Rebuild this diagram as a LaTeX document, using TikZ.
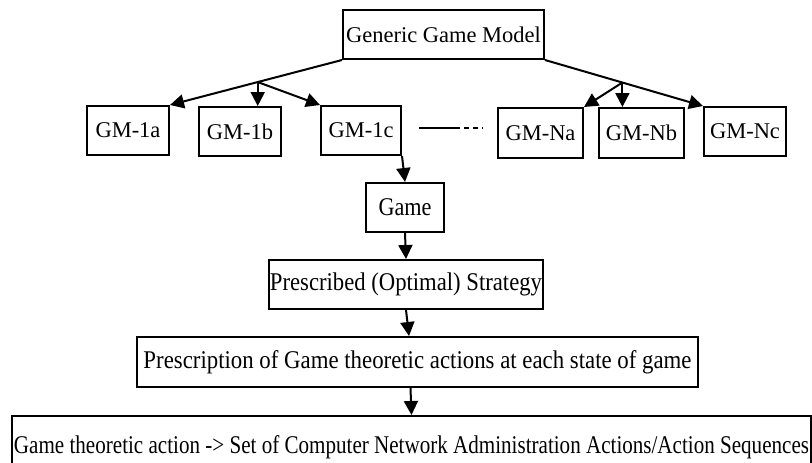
\documentclass[tikz,border=0pt]{standalone}
\usepackage{fontspec}
\usepackage{graphicx}
\setmainfont{Liberation Serif}
\usetikzlibrary{arrows.meta,calc}
\newcommand{\fitw}[2]{\resizebox{#1}{\height}{#2}}
\begin{document}
\begin{tikzpicture}[x=1pt,y=-1pt,
  box/.style={draw, line width=2pt, inner sep=0pt, font=\fontsize{22.5}{26}\selectfont},
  bigbox/.style={box, font=\fontsize{25.5}{30}\selectfont},
  arr/.style={line width=2pt, -{Triangle[length=14pt,width=14pt]}},
  ln/.style={line width=2pt}]
\useasboundingbox (0,0) rectangle (812,463);
\node[box, minimum width=201pt, minimum height=49pt] (gen) at (443.5,34.5) {Generic Game Model};
\node[box, minimum width=82pt, minimum height=49pt] (g1a) at (128,130.5) {GM-1a};
\node[box, minimum width=82pt, minimum height=49pt] (g1b) at (240,131.5) {GM-1b};
\node[box, minimum width=80pt, minimum height=49pt] (g1c) at (361,130.5) {GM-1c};
\node[box, minimum width=85pt, minimum height=50pt] (gna) at (540.5,133) {GM-Na};
\node[box, minimum width=85pt, minimum height=50pt] (gnb) at (641.5,133) {GM-Nb};
\node[box, minimum width=82pt, minimum height=49pt] (gnc) at (745,131.5) {GM-Nc};
\node[bigbox, minimum width=78pt, minimum height=49pt] (game) at (405,207.5) {\fitw{53pt}{Game}};
\node[bigbox, minimum width=274pt, minimum height=49pt] (pres) at (406,284.5) {\fitw{272pt}{Prescribed (Optimal) Strategy}};
\node[bigbox, minimum width=561pt, minimum height=50pt] (presc) at (417.5,362) {\fitw{548pt}{Prescription of Game theoretic actions at each state of game}};
\node[bigbox, minimum width=799pt, minimum height=64pt] (last) at (411.5,448) {\raisebox{6pt}{\fitw{795pt}{Game theoretic action -> Set of Computer Network Administration Actions/Action Sequences}}};
% left fan
\coordinate (jL) at ($(gen.south west)!0.49!(g1a.north east)$);
\draw[arr] (gen.south west) -- (g1a.north east);
\draw[arr] (jL) -- (jL |- g1b.north);
\draw[arr] (jL) -- (g1c.north west);
% right fan
\coordinate (jR) at ($(gen.south east)!0.49!(gnc.north west)$);
\draw[arr] (gen.south east) -- (gnc.north west);
\draw[arr] (jR) -- (gna.north east);
\draw[arr] (jR) -- (jR |- gnb.north);
% ellipsis line
\coordinate (d1) at (419,128);
\coordinate (d2) at (455,128);
\coordinate (d3) at (483,128);
\draw[ln] (d1) -- (d2);
\draw[ln, dash pattern=on 5pt off 4pt] (d2) -- (d3);
% chain
\draw[arr] (g1c.south east) -- (game.north);
\draw[arr] (game.south) -- (pres.north);
\draw[arr] (pres.south) -- ([xshift=-8.5pt]presc.north);
\draw[arr] ([xshift=-7pt]presc.south) -- (last.north);
\end{tikzpicture}
\end{document}
